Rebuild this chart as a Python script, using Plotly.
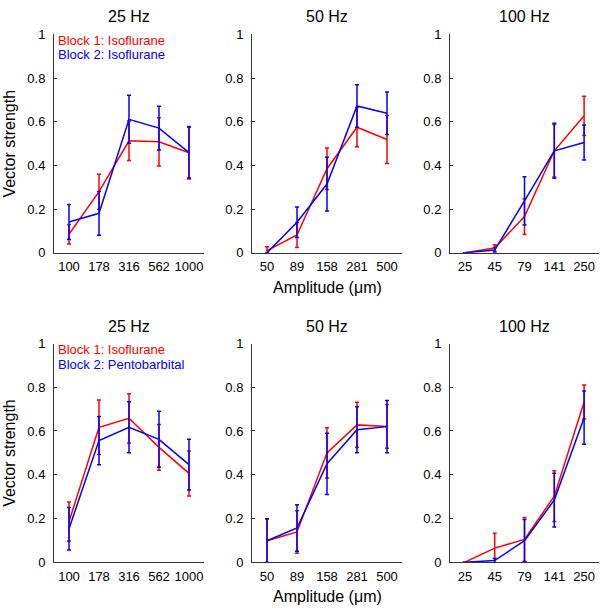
import plotly.graph_objects as go

# ---------------- data ----------------
amp_25 = ["100", "178", "316", "562", "1000"]
amp_50 = ["50", "89", "158", "281", "500"]
amp_100 = ["25", "45", "79", "141", "250"]
freq_titles = ["25 Hz", "50 Hz", "100 Hz"]

# Row 1: Block 1 Isoflurane (red) vs Block 2 Isoflurane (blue)
r1_red_25 = [0.085, 0.28, 0.513, 0.508, 0.458]
r1_red_25_err = [0.045, 0.08, 0.09, 0.11, 0.12]
r1_blue_25 = [0.141, 0.181, 0.611, 0.571, 0.459]
r1_blue_25_err = [0.08, 0.1, 0.11, 0.1, 0.117]

r1_red_50 = [0.01, 0.082, 0.385, 0.575, 0.519]
r1_red_50_err = [0.018, 0.057, 0.095, 0.09, 0.11]
r1_blue_50 = [0.0, 0.14, 0.315, 0.672, 0.639]
r1_blue_50_err = [0.0, 0.07, 0.123, 0.097, 0.097]

r1_red_100 = [0.0, 0.022, 0.166, 0.467, 0.627]
r1_red_100_err = [0.0, 0.015, 0.082, 0.12, 0.09]
r1_blue_100 = [0.0, 0.013, 0.238, 0.467, 0.505]
r1_blue_100_err = [0.0, 0.012, 0.11, 0.126, 0.08]

# Row 2: Block 1 Isoflurane (red) vs Block 2 Pentobarbital (blue)
r2_red_25 = [0.185, 0.617, 0.658, 0.525, 0.406]
r2_red_25_err = [0.09, 0.125, 0.113, 0.105, 0.103]
r2_blue_25 = [0.153, 0.556, 0.617, 0.562, 0.446]
r2_blue_25_err = [0.097, 0.11, 0.117, 0.128, 0.116]

r2_red_50 = [0.098, 0.138, 0.5, 0.628, 0.621]
r2_red_50_err = [0.1, 0.097, 0.115, 0.104, 0.1]
r2_blue_50 = [0.098, 0.156, 0.45, 0.606, 0.62]
r2_blue_50_err = [0.1, 0.106, 0.14, 0.105, 0.12]

r2_red_100 = [0.0, 0.064, 0.104, 0.302, 0.733]
r2_red_100_err = [0.0, 0.068, 0.1, 0.116, 0.078]
r2_blue_100 = [0.0, 0.007, 0.098, 0.284, 0.661]
r2_blue_100_err = [0.0, 0.01, 0.097, 0.123, 0.122]

legend_row1 = ["Block 1: Isoflurane", "Block 2: Isoflurane"]
legend_row2 = ["Block 1: Isoflurane", "Block 2: Pentobarbital"]

y_ticks = [0, 0.2, 0.4, 0.6, 0.8, 1]
y_ticktext = ["0", "0.2", "0.4", "0.6", "0.8", "1"]

RED = "#ff0000"
BLUE = "#0000ff"
FONT = "Liberation Sans, Arial, Helvetica, sans-serif"

W, H = 600, 615
x_px = [(54, 204), (252, 402), (450, 599)]
y_px = [(28, 252), (345, 569)]  # (top, bottom) pixel

panels = [
    [(amp_25, r1_red_25, r1_red_25_err, r1_blue_25, r1_blue_25_err),
     (amp_50, r1_red_50, r1_red_50_err, r1_blue_50, r1_blue_50_err),
     (amp_100, r1_red_100, r1_red_100_err, r1_blue_100, r1_blue_100_err)],
    [(amp_25, r2_red_25, r2_red_25_err, r2_blue_25, r2_blue_25_err),
     (amp_50, r2_red_50, r2_red_50_err, r2_blue_50, r2_blue_50_err),
     (amp_100, r2_red_100, r2_red_100_err, r2_blue_100, r2_blue_100_err)],
]
legends = [legend_row1, legend_row2]

fig = go.Figure()
layout = {}
annotations = []

idx = 0
for r in range(2):
    for c in range(3):
        idx += 1
        xa = "x" if idx == 1 else f"x{idx}"
        ya = "y" if idx == 1 else f"y{idx}"
        labels, red, red_e, blue, blue_e = panels[r][c]
        xs = list(range(len(labels)))
        for vals, errs, col in [(red, red_e, RED), (blue, blue_e, BLUE)]:
            fig.add_trace(go.Scatter(
                x=xs, y=vals, mode="lines",
                line=dict(color=col, width=1.5),
                error_y=dict(type="data", array=errs, visible=True,
                             color=col, thickness=1.5, width=2),
                xaxis=xa, yaxis=ya, showlegend=False, cliponaxis=False,
                hoverinfo="skip",
            ))
        x0, x1 = x_px[c]
        yt, yb = y_px[r]
        xkey = "xaxis" if idx == 1 else f"xaxis{idx}"
        ykey = "yaxis" if idx == 1 else f"yaxis{idx}"
        layout[xkey] = dict(
            domain=[x0 / W, x1 / W], anchor=ya, range=[-0.5, 4.5],
            tickvals=xs, ticktext=labels, showgrid=False, zeroline=False,
            showline=True, linecolor="#333", linewidth=1,
            ticks="", ticklabelstandoff=2,
            tickfont=dict(size=13, color="black", family=FONT),
            fixedrange=True,
        )
        layout[ykey] = dict(
            domain=[1 - yb / H, 1 - yt / H], anchor=xa, range=[0, 1],
            tickvals=y_ticks, ticktext=y_ticktext, showgrid=False, zeroline=False,
            showline=True, linecolor="#333", linewidth=1,
            ticks="inside", ticklen=3, tickcolor="#333", ticklabelstandoff=5,
            tickfont=dict(size=13, color="black", family=FONT),
            fixedrange=True,
        )
        # panel title
        annotations.append(dict(
            text=freq_titles[c], xref="paper", yref="paper",
            x=(x0 + x1) / 2 / W, y=1 - (yt - 18) / H,
            xanchor="center", yanchor="middle", showarrow=False,
            font=dict(size=16, color="black", family=FONT),
        ))
        if c == 0:
            annotations.append(dict(
                text="Vector strength", xref="paper", yref="paper",
                x=10 / W, y=1 - (yt + yb) / 2 / H, textangle=-90,
                xanchor="center", yanchor="middle", showarrow=False,
                font=dict(size=16, color="black", family=FONT),
            ))
            for k, (txt, col) in enumerate(zip(legends[r], [RED, BLUE])):
                annotations.append(dict(
                    text=txt, xref="paper", yref="paper",
                    x=56 / W, y=1 - (yt + 6 + 15 * k) / H,
                    xanchor="left", yanchor="middle", showarrow=False,
                    font=dict(size=13, color=col, family=FONT),
                ))
        if c == 1:
            annotations.append(dict(
                text="Amplitude (\u03bcm)", xref="paper", yref="paper",
                x=(x0 + x1) / 2 / W, y=1 - (yb + 35) / H,
                xanchor="center", yanchor="middle", showarrow=False,
                font=dict(size=16, color="black", family=FONT),
            ))

fig.update_layout(
    width=W, height=H,
    margin=dict(l=0, r=0, t=0, b=0),
    paper_bgcolor="white", plot_bgcolor="white",
    annotations=annotations,
    hovermode=False,
    **layout,
)

fig.write_html(
    "out.html",
    config={"displayModeBar": False, "responsive": False},
    post_script=(
        "document.documentElement.style.overflow='hidden';"
        "document.body.style.margin='0';document.body.style.overflow='hidden';"
        "var d=document.getElementById('{plot_id}');"
        "d.style.position='fixed';d.style.top='0px';d.style.left='0px';"
    ),
)
